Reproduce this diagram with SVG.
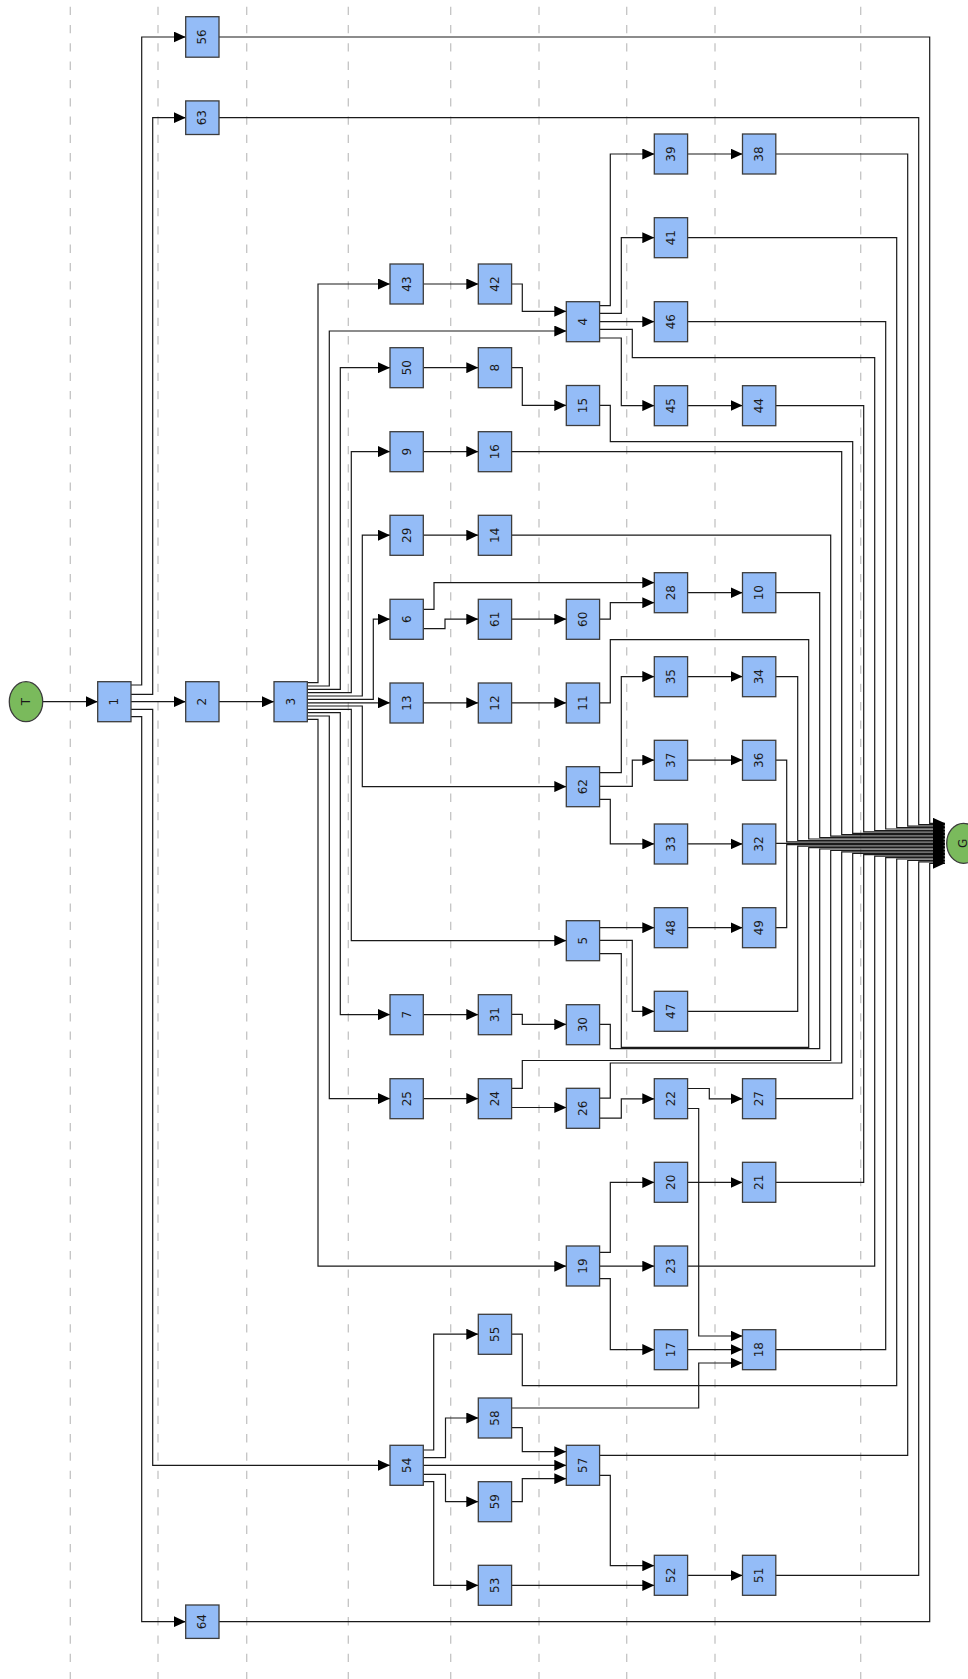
<svg xmlns="http://www.w3.org/2000/svg" width="968" height="1679" viewBox="0 0 968 1679">
<style>
.lane{stroke:#c4c4c4;stroke-width:1.3;stroke-dasharray:8.3 10;fill:none}
.e path{fill:none;stroke:#1a1a1a;stroke-width:1.2;marker-end:url(#arr)}
.node rect{fill:#94bcf7;stroke:#3c3c3c;stroke-width:1.3}
.term ellipse{fill:#7aba5c;stroke:#3c3c3c;stroke-width:1.3}
text{font-family:"DejaVu Sans","Liberation Sans",sans-serif;font-size:12px;fill:#1a1a1a;text-anchor:middle;dominant-baseline:central}
</style>
<defs>
<marker id="arr" markerUnits="userSpaceOnUse" markerWidth="12" markerHeight="11" viewBox="0 0 12 11" refX="12" refY="5.5" orient="auto">
<path d="M0,0 L12,5.5 L0,11 z" fill="#000"/>
</marker>
</defs>
<rect width="968" height="1679" fill="#fff"/>
<g id="lanes">
<line class="lane" x1="70.3" y1="6.7" x2="70.3" y2="1679"/>
<line class="lane" x1="158" y1="6.7" x2="158" y2="1679"/>
<line class="lane" x1="246.7" y1="6.7" x2="246.7" y2="1679"/>
<line class="lane" x1="348.3" y1="6.7" x2="348.3" y2="1679"/>
<line class="lane" x1="450.7" y1="6.7" x2="450.7" y2="1679"/>
<line class="lane" x1="539" y1="6.7" x2="539" y2="1679"/>
<line class="lane" x1="626.7" y1="6.7" x2="626.7" y2="1679"/>
<line class="lane" x1="715" y1="6.7" x2="715" y2="1679"/>
<line class="lane" x1="860.7" y1="6.7" x2="860.7" y2="1679"/>
</g>
<g id="connectors" class="e">
<path d="M42.7,701.7 H97.7"/>
<path d="M131,685 H141.7 V37 H185.7"/>
<path d="M131,694.3 H152.7 V117.7 H185.7"/>
<path d="M131,701.7 H185.7"/>
<path d="M131,709.3 H152.7 V1465.3 H390"/>
<path d="M131,716.7 H141.7 V1621.7 H185.7"/>
<path d="M219,701.7 H274"/>
<path d="M307.3,682.7 H318 V284 H390"/>
<path d="M307.3,686 H329.3 V331 H566.3"/>
<path d="M307.3,689.4 H340.3 V367.7 H390"/>
<path d="M307.3,692.7 H351.3 V451.6 H390"/>
<path d="M307.3,696 H362.3 V535.2 H390"/>
<path d="M307.3,699.4 H373.3 V619.2 H390"/>
<path d="M307.3,702.8 H390"/>
<path d="M307.3,706 H362.3 V786.6 H566.3"/>
<path d="M307.3,709.4 H351.3 V940.6 H566.3"/>
<path d="M307.3,712.7 H340.3 V1014.6 H390"/>
<path d="M307.3,716 H329.3 V1098.6 H390"/>
<path d="M307.3,719.4 H318 V1266.2 H566.3"/>
<path d="M423.3,284 H478.3"/>
<path d="M511.6,284 H522.3 V311.3 H566.3"/>
<path d="M599.6,305.7 H610.3 V154 H654.3"/>
<path d="M599.6,313.3 H621.3 V237.7 H654.3"/>
<path d="M599.6,321.7 H654.3"/>
<path d="M599.6,329.3 H632.3 V357.7 H874.7 V830.5 H945"/>
<path d="M599.6,338 H621.3 V405.6 H654.3"/>
<path d="M687.6,154 H742.5"/>
<path d="M775.8,154 H907.7 V826.2 H945"/>
<path d="M687.6,237.7 H896.7 V827.6 H945"/>
<path d="M687.6,321.7 H885.7 V829 H945"/>
<path d="M687.6,405.6 H742.5"/>
<path d="M775.8,405.6 H863.7 V831.9 H945"/>
<path d="M423.3,367.7 H478.3"/>
<path d="M511.6,367.7 H522.3 V405.4 H566.3"/>
<path d="M599.6,405.4 H610.3 V441.7 H852.7 V833.3 H945"/>
<path d="M423.3,451.6 H478.3"/>
<path d="M511.6,451.6 H841.7 V834.7 H945"/>
<path d="M423.3,535.2 H478.3"/>
<path d="M511.6,535.2 H830.7 V836.2 H945"/>
<path d="M423.3,609.3 H434 V582.6 H654.3"/>
<path d="M423.3,628.7 H445 V619.2 H478.3"/>
<path d="M511.6,619.2 H566.3"/>
<path d="M599.6,619.2 H610.3 V602.7 H654.3"/>
<path d="M687.6,592.7 H742.5"/>
<path d="M775.8,592.7 H819.7 V837.6 H945"/>
<path d="M423.3,702.8 H478.3"/>
<path d="M511.6,702.8 H566.3"/>
<path d="M599.6,702.8 H610.3 V639.7 H808.7 V839 H945"/>
<path d="M599.6,772.7 H621.3 V676.6 H654.3"/>
<path d="M599.6,786.4 H632.3 V760.1 H654.3"/>
<path d="M599.6,799.3 H610.3 V843.9 H654.3"/>
<path d="M687.6,676.6 H742.5"/>
<path d="M775.8,676.6 H797.7 V840.5 H945"/>
<path d="M687.6,760.1 H742.5"/>
<path d="M775.8,760.1 H786.7 V841.9 H945"/>
<path d="M687.6,843.9 H742.5"/>
<path d="M775.8,843.3 H945"/>
<path d="M599.6,927.7 H654.3"/>
<path d="M599.6,940.4 H632.3 V1011.3 H654.3"/>
<path d="M599.6,953.7 H621.3 V1047.3 H808.7 V847.6 H945"/>
<path d="M687.6,927.7 H742.5"/>
<path d="M775.8,927.7 H786.7 V844.7 H945"/>
<path d="M687.6,1011.3 H797.7 V846.2 H945"/>
<path d="M423.3,1014.6 H478.3"/>
<path d="M511.6,1014.4 H522.3 V1024.4 H566.3"/>
<path d="M599.6,1024.4 H610.3 V1048.7 H819.7 V849 H945"/>
<path d="M423.3,1098.6 H478.3"/>
<path d="M511.6,1088.3 H522.3 V1060.5 H830.7 V850.5 H945"/>
<path d="M511.6,1107.5 H566.3"/>
<path d="M599.6,1098.2 H610.3 V1063 H841.7 V851.9 H945"/>
<path d="M599.6,1118.2 H621.3 V1098.8 H654.3"/>
<path d="M687.6,1088.5 H709.3 V1098.8 H742.5"/>
<path d="M687.6,1108.5 H698.7 V1336 H742.5"/>
<path d="M775.8,1098.6 H852.7 V853.3 H945"/>
<path d="M599.6,1252.3 H610.3 V1182.4 H654.3"/>
<path d="M599.6,1266.2 H654.3"/>
<path d="M599.6,1278.7 H610.3 V1349.6 H654.3"/>
<path d="M687.6,1182.4 H742.5"/>
<path d="M775.8,1182.4 H863.7 V854.7 H945"/>
<path d="M687.6,1266.1 H874.7 V856.2 H945"/>
<path d="M687.6,1349.6 H742.5"/>
<path d="M775.8,1349.6 H885.7 V857.6 H945"/>
<path d="M423.3,1450 H433.7 V1334.2 H478.3"/>
<path d="M423.3,1457.7 H445.5 V1418 H478.3"/>
<path d="M423.3,1465.3 H566.3"/>
<path d="M423.3,1474.3 H445.5 V1501.7 H478.3"/>
<path d="M423.3,1481.7 H433.7 V1585.4 H478.3"/>
<path d="M511.6,1334.2 H522.3 V1385.7 H896.7 V859 H945"/>
<path d="M511.6,1408 H698.7 V1363 H742.5"/>
<path d="M511.6,1427.7 H522.3 V1451.7 H566.3"/>
<path d="M511.6,1501.7 H522.3 V1478.7 H566.3"/>
<path d="M599.6,1455.3 H907.7 V860.5 H945"/>
<path d="M599.6,1475.3 H610.3 V1565.7 H654.3"/>
<path d="M511.6,1585.4 H654.3"/>
<path d="M687.6,1575.4 H742.5"/>
<path d="M775.8,1575.4 H918.7 V861.9 H945"/>
<path d="M219,1621.7 H929.7 V863.3 H945"/>
<path d="M219,37 H929.7 V823.3 H945"/>
<path d="M219,117.7 H918.7 V824.7 H945"/>
</g>
<g id="nT" class="term"><ellipse cx="26" cy="701.7" rx="16.7" ry="20"/><text transform="translate(26,701.7) rotate(-90)">T</text></g>
<g id="nG" class="term"><ellipse cx="963.4" cy="843.3" rx="16.7" ry="20"/><text transform="translate(963.4,843.3) rotate(-90)">G</text></g>
<g id="n1" class="node" transform="translate(97.7,681.7)"><rect width="33.3" height="40"/><text transform="translate(16.65,20) rotate(-90)">1</text></g>
<g id="n56" class="node" transform="translate(185.7,16.7)"><rect width="33.3" height="40.5"/><text transform="translate(16.65,20.25) rotate(-90)">56</text></g>
<g id="n63" class="node" transform="translate(185.7,100.9)"><rect width="33.3" height="33.6"/><text transform="translate(16.65,16.8) rotate(-90)">63</text></g>
<g id="n2" class="node" transform="translate(185.7,681.7)"><rect width="33.3" height="40"/><text transform="translate(16.65,20) rotate(-90)">2</text></g>
<g id="n64" class="node" transform="translate(185.7,1605)"><rect width="33.3" height="33.4"/><text transform="translate(16.65,16.7) rotate(-90)">64</text></g>
<g id="n3" class="node" transform="translate(274,681.7)"><rect width="33.3" height="40"/><text transform="translate(16.65,20) rotate(-90)">3</text></g>
<g id="n43" class="node" transform="translate(390,264)"><rect width="33.3" height="40"/><text transform="translate(16.65,20) rotate(-90)">43</text></g>
<g id="n50" class="node" transform="translate(390,347.7)"><rect width="33.3" height="40"/><text transform="translate(16.65,20) rotate(-90)">50</text></g>
<g id="n9" class="node" transform="translate(390,431.7)"><rect width="33.3" height="40"/><text transform="translate(16.65,20) rotate(-90)">9</text></g>
<g id="n29" class="node" transform="translate(390,515.3)"><rect width="33.3" height="40"/><text transform="translate(16.65,20) rotate(-90)">29</text></g>
<g id="n6" class="node" transform="translate(390,599.3)"><rect width="33.3" height="40"/><text transform="translate(16.65,20) rotate(-90)">6</text></g>
<g id="n13" class="node" transform="translate(390,683)"><rect width="33.3" height="40"/><text transform="translate(16.65,20) rotate(-90)">13</text></g>
<g id="n7" class="node" transform="translate(390,994.7)"><rect width="33.3" height="40"/><text transform="translate(16.65,20) rotate(-90)">7</text></g>
<g id="n25" class="node" transform="translate(390,1078.7)"><rect width="33.3" height="40"/><text transform="translate(16.65,20) rotate(-90)">25</text></g>
<g id="n54" class="node" transform="translate(390,1445.3)"><rect width="33.3" height="40"/><text transform="translate(16.65,20) rotate(-90)">54</text></g>
<g id="n42" class="node" transform="translate(478.3,264)"><rect width="33.3" height="40"/><text transform="translate(16.65,20) rotate(-90)">42</text></g>
<g id="n8" class="node" transform="translate(478.3,347.7)"><rect width="33.3" height="40"/><text transform="translate(16.65,20) rotate(-90)">8</text></g>
<g id="n16" class="node" transform="translate(478.3,431.7)"><rect width="33.3" height="40"/><text transform="translate(16.65,20) rotate(-90)">16</text></g>
<g id="n14" class="node" transform="translate(478.3,515.3)"><rect width="33.3" height="40"/><text transform="translate(16.65,20) rotate(-90)">14</text></g>
<g id="n61" class="node" transform="translate(478.3,599.3)"><rect width="33.3" height="40"/><text transform="translate(16.65,20) rotate(-90)">61</text></g>
<g id="n12" class="node" transform="translate(478.3,683)"><rect width="33.3" height="40"/><text transform="translate(16.65,20) rotate(-90)">12</text></g>
<g id="n31" class="node" transform="translate(478.3,994.7)"><rect width="33.3" height="40"/><text transform="translate(16.65,20) rotate(-90)">31</text></g>
<g id="n24" class="node" transform="translate(478.3,1078.7)"><rect width="33.3" height="40"/><text transform="translate(16.65,20) rotate(-90)">24</text></g>
<g id="n55" class="node" transform="translate(478.3,1314.3)"><rect width="33.3" height="40"/><text transform="translate(16.65,20) rotate(-90)">55</text></g>
<g id="n58" class="node" transform="translate(478.3,1398)"><rect width="33.3" height="40"/><text transform="translate(16.65,20) rotate(-90)">58</text></g>
<g id="n59" class="node" transform="translate(478.3,1481.7)"><rect width="33.3" height="40"/><text transform="translate(16.65,20) rotate(-90)">59</text></g>
<g id="n53" class="node" transform="translate(478.3,1565.3)"><rect width="33.3" height="40"/><text transform="translate(16.65,20) rotate(-90)">53</text></g>
<g id="n4" class="node" transform="translate(566.3,301.7)"><rect width="33.3" height="40"/><text transform="translate(16.65,20) rotate(-90)">4</text></g>
<g id="n15" class="node" transform="translate(566.3,385.5)"><rect width="33.3" height="40"/><text transform="translate(16.65,20) rotate(-90)">15</text></g>
<g id="n60" class="node" transform="translate(566.3,599.3)"><rect width="33.3" height="40"/><text transform="translate(16.65,20) rotate(-90)">60</text></g>
<g id="n11" class="node" transform="translate(566.3,683)"><rect width="33.3" height="40"/><text transform="translate(16.65,20) rotate(-90)">11</text></g>
<g id="n62" class="node" transform="translate(566.3,766.7)"><rect width="33.3" height="40"/><text transform="translate(16.65,20) rotate(-90)">62</text></g>
<g id="n5" class="node" transform="translate(566.3,920.7)"><rect width="33.3" height="40"/><text transform="translate(16.65,20) rotate(-90)">5</text></g>
<g id="n30" class="node" transform="translate(566.3,1004.7)"><rect width="33.3" height="40"/><text transform="translate(16.65,20) rotate(-90)">30</text></g>
<g id="n26" class="node" transform="translate(566.3,1088.3)"><rect width="33.3" height="40"/><text transform="translate(16.65,20) rotate(-90)">26</text></g>
<g id="n19" class="node" transform="translate(566.3,1246)"><rect width="33.3" height="40"/><text transform="translate(16.65,20) rotate(-90)">19</text></g>
<g id="n57" class="node" transform="translate(566.3,1445.3)"><rect width="33.3" height="40"/><text transform="translate(16.65,20) rotate(-90)">57</text></g>
<g id="n39" class="node" transform="translate(654.3,134)"><rect width="33.3" height="40"/><text transform="translate(16.65,20) rotate(-90)">39</text></g>
<g id="n41" class="node" transform="translate(654.3,217.7)"><rect width="33.3" height="40"/><text transform="translate(16.65,20) rotate(-90)">41</text></g>
<g id="n46" class="node" transform="translate(654.3,301.7)"><rect width="33.3" height="40"/><text transform="translate(16.65,20) rotate(-90)">46</text></g>
<g id="n45" class="node" transform="translate(654.3,385.7)"><rect width="33.3" height="40"/><text transform="translate(16.65,20) rotate(-90)">45</text></g>
<g id="n28" class="node" transform="translate(654.3,572.7)"><rect width="33.3" height="40"/><text transform="translate(16.65,20) rotate(-90)">28</text></g>
<g id="n35" class="node" transform="translate(654.3,656.7)"><rect width="33.3" height="40"/><text transform="translate(16.65,20) rotate(-90)">35</text></g>
<g id="n37" class="node" transform="translate(654.3,740.3)"><rect width="33.3" height="40"/><text transform="translate(16.65,20) rotate(-90)">37</text></g>
<g id="n33" class="node" transform="translate(654.3,824)"><rect width="33.3" height="40"/><text transform="translate(16.65,20) rotate(-90)">33</text></g>
<g id="n48" class="node" transform="translate(654.3,907.7)"><rect width="33.3" height="40"/><text transform="translate(16.65,20) rotate(-90)">48</text></g>
<g id="n47" class="node" transform="translate(654.3,991.3)"><rect width="33.3" height="40"/><text transform="translate(16.65,20) rotate(-90)">47</text></g>
<g id="n22" class="node" transform="translate(654.3,1078.7)"><rect width="33.3" height="40"/><text transform="translate(16.65,20) rotate(-90)">22</text></g>
<g id="n20" class="node" transform="translate(654.3,1162.3)"><rect width="33.3" height="40"/><text transform="translate(16.65,20) rotate(-90)">20</text></g>
<g id="n23" class="node" transform="translate(654.3,1246)"><rect width="33.3" height="40"/><text transform="translate(16.65,20) rotate(-90)">23</text></g>
<g id="n17" class="node" transform="translate(654.3,1329.7)"><rect width="33.3" height="40"/><text transform="translate(16.65,20) rotate(-90)">17</text></g>
<g id="n52" class="node" transform="translate(654.3,1555.3)"><rect width="33.3" height="40"/><text transform="translate(16.65,20) rotate(-90)">52</text></g>
<g id="n38" class="node" transform="translate(742.5,134)"><rect width="33.3" height="40"/><text transform="translate(16.65,20) rotate(-90)">38</text></g>
<g id="n44" class="node" transform="translate(742.5,385.7)"><rect width="33.3" height="40"/><text transform="translate(16.65,20) rotate(-90)">44</text></g>
<g id="n10" class="node" transform="translate(742.5,572.7)"><rect width="33.3" height="40"/><text transform="translate(16.65,20) rotate(-90)">10</text></g>
<g id="n34" class="node" transform="translate(742.5,656.7)"><rect width="33.3" height="40"/><text transform="translate(16.65,20) rotate(-90)">34</text></g>
<g id="n36" class="node" transform="translate(742.5,740.3)"><rect width="33.3" height="40"/><text transform="translate(16.65,20) rotate(-90)">36</text></g>
<g id="n32" class="node" transform="translate(742.5,824)"><rect width="33.3" height="40"/><text transform="translate(16.65,20) rotate(-90)">32</text></g>
<g id="n49" class="node" transform="translate(742.5,907.7)"><rect width="33.3" height="40"/><text transform="translate(16.65,20) rotate(-90)">49</text></g>
<g id="n27" class="node" transform="translate(742.5,1078.7)"><rect width="33.3" height="40"/><text transform="translate(16.65,20) rotate(-90)">27</text></g>
<g id="n21" class="node" transform="translate(742.5,1162.3)"><rect width="33.3" height="40"/><text transform="translate(16.65,20) rotate(-90)">21</text></g>
<g id="n18" class="node" transform="translate(742.5,1329.7)"><rect width="33.3" height="40"/><text transform="translate(16.65,20) rotate(-90)">18</text></g>
<g id="n51" class="node" transform="translate(742.5,1555.3)"><rect width="33.3" height="40"/><text transform="translate(16.65,20) rotate(-90)">51</text></g>
</svg>
